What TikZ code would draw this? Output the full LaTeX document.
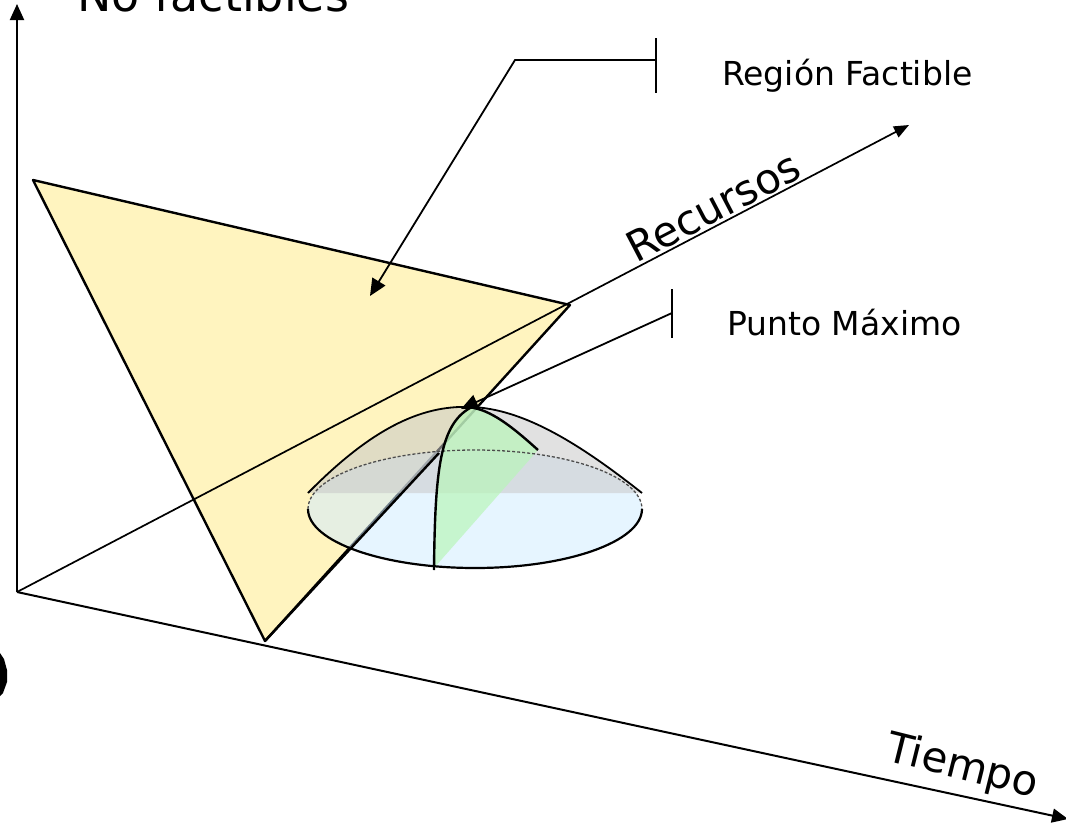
\documentclass[tikz,border=0pt]{standalone}
\usepackage{fontspec}
\setmainfont{DejaVu Sans}
\usetikzlibrary{arrows.meta}
\definecolor{triyel}{RGB}{255,240,170}
\definecolor{domegray}{RGB}{200,200,200}
\definecolor{domeblue}{RGB}{210,236,255}
\definecolor{domegreen}{RGB}{185,245,185}
\tikzset{
  axis/.style={line width=2pt,-{Triangle[length=16pt,width=14pt]}},
  callout/.style={line width=1.6pt},
  callarrow/.style={line width=1.8pt,-{Triangle[length=17pt,width=15pt]}},
  lbl/.style={font=\fontsize{33}{36}\selectfont,inner sep=0pt},
  biglbl/.style={font=\fontsize{42}{44}\selectfont,inner sep=0pt},
  edge/.style={line width=2.4pt,line join=round},
}
\begin{document}
\begin{tikzpicture}[x=1pt,y=-1pt]
\useasboundingbox (0,0) rectangle (1066,827);
% coordinates
\coordinate (O) at (17,592);
\coordinate (ytip) at (17,4);
\coordinate (rtip) at (909,125);
\coordinate (ttip) at (1068,819);
\coordinate (A) at (33,180);
\coordinate (B) at (570,305);
\coordinate (C) at (265,641);
\coordinate (cross) at (439,453);
% axes
\draw[axis] (O) -- (ytip);
\draw[axis] (O) -- (ttip);
% triangle
\fill[triyel,opacity=0.75] (A) -- (B) -- (C) -- cycle;
\draw[axis,line width=1.7pt,-{Triangle[length=15pt,width=12pt]}] (O) -- (rtip);
\draw[edge] (A) -- (B) -- (C) -- cycle;
% dome
\coordinate (E) at (475,509);
\fill[domeblue,opacity=0.55] (E) ellipse[x radius=167, y radius=59];
\fill[domegray,opacity=0.55] (308,493) .. controls (370,430) and (420,405) .. (470,407)
   .. controls (525,408) and (585,448) .. (642,493) -- cycle;
\fill[domegreen,opacity=0.7] (470,408) .. controls (440,425) and (435,470) .. (434,568)
   -- (538,450) .. controls (518,432) and (495,412) .. (477,408) -- cycle;
\draw[black!70,line width=1.3pt,densely dashed] (308,509) arc[start angle=180,end angle=360,x radius=167,y radius=59];
\draw[line width=2.2pt] (308,509) arc[start angle=180,end angle=0,x radius=167,y radius=59];
\draw[line width=1.8pt] (308,493) .. controls (370,430) and (420,405) .. (470,407)
   .. controls (525,408) and (585,448) .. (642,493);
\draw[line width=2.4pt] (470,408) .. controls (440,425) and (435,470) .. (434,570);
\draw[line width=2.4pt] (474,408) .. controls (495,412) and (518,432) .. (538,450);
\draw[edge] (C) -- (cross);
% callouts
\node[lbl,anchor=base west] (rf) at (722,85) {Región Factible};
\node[lbl,anchor=base west] (pm) at (727,335) {Punto Máximo};
\coordinate (rfT1) at (656,38);
\coordinate (rfT2) at (656,93);
\coordinate (rfK) at (656,60);
\coordinate (rfB) at (515,60);
\coordinate (rfTip) at (370,296);
\draw[callout] (rfT1) -- (rfT2);
\draw[callarrow] (rfK) -- (rfB) -- (rfTip);
\coordinate (pmT1) at (672,289);
\coordinate (pmT2) at (672,338);
\coordinate (pmK) at (672,313);
\coordinate (pmTip) at (461,409);
\draw[callout] (pmT1) -- (pmT2);
\draw[callarrow] (pmK) -- (pmTip);
% axis labels
\node[biglbl,anchor=base west,rotate=27.6] (rec) at (636,264) {Recursos};
\node[biglbl,anchor=base west,rotate=-14] (tie) at (884,760) {Tiempo};
\node[font=\fontsize{46}{50}\selectfont,inner sep=0pt,anchor=base west] (nf) at (77,11) {No factibles};
% clipped blob at left edge
\fill (0,653) -- (4,659) -- (7,670) -- (7,682) -- (3,693) -- (0,696) -- cycle;
\end{tikzpicture}
\end{document}
